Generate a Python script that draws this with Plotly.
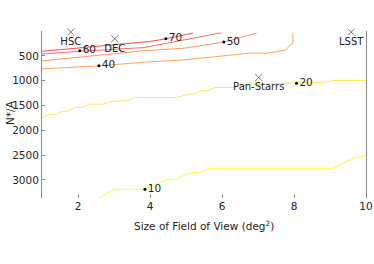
import plotly.graph_objects as go

# ---- contour lines (level -> x, y) ----
levels = [10, 20, 40, 50, 60, 70]
level_colors = ["#ffff3c", "#ffe46a", "#ffa658", "#ff9868", "#ff6c5e", "#ff4a4a"]

l10_x = [2.52, 3.02, 3.81, 4.50, 4.73, 5.01, 5.19, 5.43, 5.64, 9.08, 9.64, 9.92, 10.0]
l10_y = [3383, 3187, 3187, 2986, 2986, 2885, 2845, 2845, 2764, 2764, 2562, 2530, 2496]

l20_x = [1.00, 1.17, 1.40, 1.54, 1.72, 1.91, 2.14, 2.31, 2.69, 2.93, 3.39, 3.58, 4.73,
         5.06, 5.24, 5.43, 5.61, 5.80, 6.35, 6.49, 7.74, 8.90, 9.04, 10.0]
l20_y = [1744, 1689, 1675, 1623, 1609, 1542, 1534, 1474, 1474, 1421, 1401, 1341, 1341,
         1272, 1272, 1200, 1200, 1139, 1139, 1095, 1050, 1030, 998, 998]

l40_x = [1.00, 2.58, 3.85, 4.96, 6.77, 7.27, 7.79, 7.85, 7.97, 7.97]
l40_y = [762, 702, 627, 581, 446, 446, 379, 312, 244, 36]

l50_x = [1.00, 3.85, 4.96, 6.05, 6.96]
l50_y = [601, 397, 345, 224, 42]

l60_x = [1.00, 2.05, 3.85, 5.98]
l60_y = [464, 409, 333, 36]

l70_x = [1.00, 3.99, 4.44, 5.19]
l70_y = [409, 212, 157, 42]

line_x = [l10_x, l20_x, l40_x, l50_x, l60_x, l70_x]
line_y = [l10_y, l20_y, l40_y, l50_y, l60_y, l70_y]

# contour label positions
label_x = [3.86, 8.07, 2.58, 6.05, 2.05, 4.44]
label_y = [3187, 1050, 702, 224, 399, 157]

# instruments
inst_names = ["HSC", "DEC", "LSST", "Pan-Starrs", "PTF"]
inst_x = [1.80, 3.02, 9.59, 7.02, 7.11]
inst_y = [22, 157, 22, 937, 3369]
inst_textpos = ["bottom center", "bottom center", "bottom center", "bottom center", "top center"]

x_ticks = [2, 4, 6, 8, 10]
y_ticks = [500, 1000, 1500, 2000, 2500, 3000]

W, H = 374, 264
ML, MR, MT, MB = 42, 8, 31, 66
plot_w = W - ML - MR
plot_h = H - MT - MB

fig = go.Figure()
for lx, ly, c in zip(line_x, line_y, level_colors):
    fig.add_trace(go.Scatter(x=lx, y=ly, mode="lines",
                             line=dict(color=c, width=1), hoverinfo="skip"))

fig.add_trace(go.Scatter(
    x=label_x, y=label_y, mode="markers+text",
    text=[str(v) for v in levels], textposition="middle right",
    marker=dict(color="black", size=3),
    textfont=dict(size=10.5, color="#222222", family="DejaVu Sans"),
))

fig.add_trace(go.Scatter(
    x=inst_x, y=inst_y, mode="markers+text", text=inst_names,
    textposition=inst_textpos, cliponaxis=False,
    marker=dict(symbol="x-thin", size=7, line=dict(color="#555555", width=0.8)),
    textfont=dict(size=10, color="#222222", family="DejaVu Sans"),
))

fig.update_layout(
    width=W, height=H,
    margin=dict(l=ML, r=MR, t=MT, b=MB),
    paper_bgcolor="white", plot_bgcolor="white",
    showlegend=False,
    font=dict(family="DejaVu Sans", size=10.5, color="#262626"),
    annotations=[
        dict(text="Size of Field of View (deg<sup>2</sup>)",
             x=(204 - ML) / plot_w, xref="paper",
             y=1 - (225 - MT) / plot_h, yref="paper",
             xanchor="center", yanchor="middle", showarrow=False,
             font=dict(size=10.5)),
        dict(text="N*/A", textangle=-90,
             x=(10 - ML) / plot_w, xref="paper",
             y=1 - (113 - MT) / plot_h, yref="paper",
             xanchor="center", yanchor="middle", showarrow=False,
             font=dict(size=10.5)),
    ],
)

fig.update_xaxes(
    range=[1, 10], tickvals=x_ticks, showgrid=False, zeroline=False,
    showline=False, ticks="inside", ticklen=3, tickcolor="#888888",
    automargin=False,
)
fig.update_yaxes(
    range=[3363, 0], tickvals=y_ticks, showgrid=False, zeroline=False,
    showline=True, linecolor="#888888", linewidth=1, mirror=True,
    ticks="inside", ticklen=3, tickcolor="#888888",
    automargin=False,
)

fig.write_html("out.html", config={"displayModeBar": False},
               post_script="document.body.style.margin='0';document.body.style.overflow='hidden';")
